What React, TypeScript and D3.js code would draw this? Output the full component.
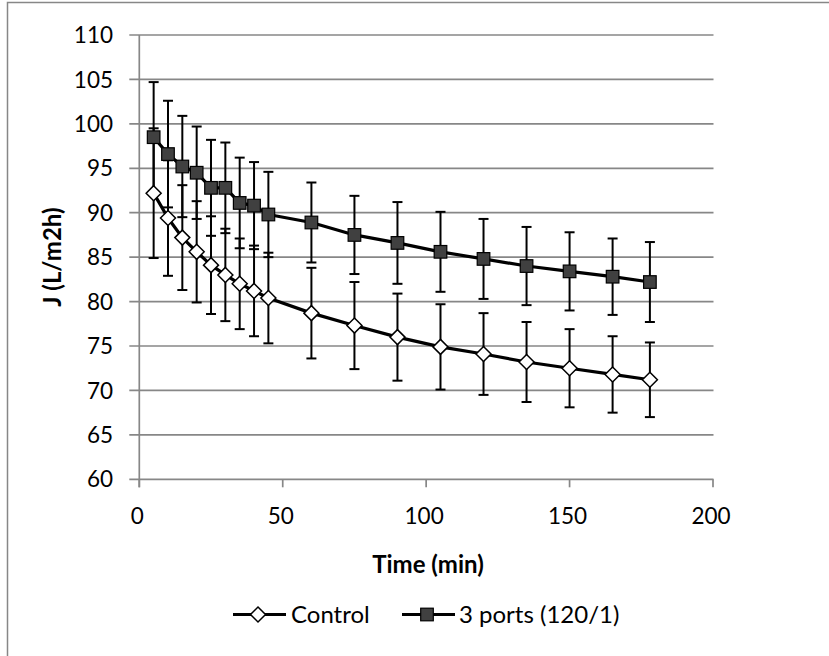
import React from "react";
import * as d3 from "d3";

const times = [5, 10, 15, 20, 25, 30, 35, 40, 45, 60, 75, 90, 105, 120, 135, 150, 165, 178];
const controlValues = [92.2, 89.4, 87.2, 85.6, 84.1, 83.0, 82.0, 81.2, 80.4, 78.7, 77.3, 76.0, 74.9, 74.1, 73.2, 72.5, 71.8, 71.2];
const controlErrors = [7.3, 6.5, 5.9, 5.7, 5.5, 5.2, 5.1, 5.1, 5.1, 5.1, 4.9, 4.9, 4.8, 4.6, 4.5, 4.4, 4.3, 4.2];
const portsValues = [98.5, 96.6, 95.2, 94.5, 92.8, 92.8, 91.1, 90.8, 89.8, 88.9, 87.5, 86.6, 85.6, 84.8, 84.0, 83.4, 82.8, 82.2];
const portsErrors = [6.2, 6.0, 5.7, 5.2, 5.4, 5.1, 5.1, 4.9, 4.8, 4.5, 4.4, 4.6, 4.5, 4.5, 4.4, 4.4, 4.3, 4.5];
const yTicks = [60, 65, 70, 75, 80, 85, 90, 95, 100, 105, 110];
const xTicks = [0, 50, 100, 150, 200];
const seriesNames = ["Control", "3 ports (120/1)"];
const xTitle = "Time (min)";
const yTitle = "J (L/m2h)";

const W = 829;
const H = 656;
const FONT = "Lato, 'Open Sans', 'Liberation Sans', sans-serif";
const GRID = "#878787";

export default function App() {
  const x = d3.scaleLinear().domain([0, 200]).range([139.3, 713]);
  const y = d3.scaleLinear().domain([60, 110]).range([479.3, 35]);
  const line = d3
    .line<[number, number]>()
    .x((d) => x(d[0]))
    .y((d) => y(d[1]));

  const series = [
    { name: seriesNames[0], values: controlValues, errors: controlErrors, kind: "diamond" },
    { name: seriesNames[1], values: portsValues, errors: portsErrors, kind: "square" },
  ];

  const marker = (kind: string, cx: number, cy: number, key: any) =>
    kind === "diamond" ? (
      <path
        key={key}
        d={`M${cx},${cy - 7.5}L${cx + 7.5},${cy}L${cx},${cy + 7.5}L${cx - 7.5},${cy}Z`}
        fill="#fff"
        stroke="#000"
        strokeWidth={1.5}
      />
    ) : (
      <rect key={key} x={cx - 6.3} y={cy - 6.3} width={12.6} height={12.6} fill="#404040" stroke="#000" strokeWidth={1.2} />
    );

  const capW = 5;

  return (
    <svg
      width={W}
      height={H}
      style={{ position: "absolute", left: 0, top: 0, background: "#fff" }}
      fontFamily={FONT}
    >
      <rect x={0} y={0} width={W} height={H} fill="#fff" />
      <rect x={7.5} y={2.5} width={900} height={700} fill="none" stroke={GRID} strokeWidth={1.5} />

      {/* gridlines */}
      {yTicks.map((t) => (
        <line key={"g" + t} x1={129.3} x2={713.5} y1={y(t)} y2={y(t)} stroke={GRID} strokeWidth={1.7} />
      ))}
      {/* y axis line */}
      <line x1={x(0)} x2={x(0)} y1={y(110)} y2={y(60) + 8} stroke={GRID} strokeWidth={1.7} />
      {/* x ticks */}
      {xTicks.map((t) => (
        <line key={"xt" + t} x1={x(t)} x2={x(t)} y1={y(60)} y2={y(60) + 8} stroke={GRID} strokeWidth={1.7} />
      ))}

      {/* y tick labels */}
      {yTicks.map((t) => (
        <text key={"yl" + t} x={113} y={y(t)} dy="0.36em" textAnchor="end" fontSize={22.5} fill="#000">
          {t}
        </text>
      ))}
      {/* x tick labels */}
      {xTicks.map((t) => (
        <text key={"xl" + t} x={x(t) - 2} y={524} textAnchor="middle" fontSize={22.5} fill="#000">
          {t}
        </text>
      ))}

      {/* axis titles */}
      <text x={428} y={573} textAnchor="middle" fontSize={24} fontWeight="bold" fill="#000">
        {xTitle}
      </text>
      <text
        transform={`translate(61,${(y(60) + y(110)) / 2}) rotate(-90)`}
        textAnchor="middle"
        fontSize={24}
        fontWeight="bold"
        fill="#000"
      >
        {yTitle}
      </text>

      {/* error bars */}
      {series.map((s, si) =>
        times.map((t, i) => {
          const cx = x(t);
          const top = y(s.values[i] + s.errors[i]);
          const bot = y(s.values[i] - s.errors[i]);
          return (
            <g key={`e${si}-${i}`} stroke="#000" strokeWidth={2}>
              <line x1={cx} x2={cx} y1={top} y2={bot} />
              <line x1={cx - capW} x2={cx + capW} y1={top} y2={top} />
              <line x1={cx - capW} x2={cx + capW} y1={bot} y2={bot} />
            </g>
          );
        })
      )}

      {/* lines */}
      {series.map((s, si) => (
        <path
          key={"l" + si}
          d={line(times.map((t, i) => [t, s.values[i]] as [number, number])) || ""}
          fill="none"
          stroke="#000"
          strokeWidth={3.2}
          strokeLinejoin="round"
        />
      ))}

      {/* markers */}
      {series.map((s, si) => times.map((t, i) => marker(s.kind, x(t), y(s.values[i]), `m${si}-${i}`)))}

      {/* legend */}
      <g>
        <line x1={233} x2={286} y1={614.5} y2={614.5} stroke="#000" strokeWidth={3.2} />
        {marker("diamond", 258, 614.5, "lg0")}
        <text x={291} y={614.5} dy="0.36em" fontSize={24} fill="#000">
          {seriesNames[0]}
        </text>
        <line x1={402} x2={455} y1={614.5} y2={614.5} stroke="#000" strokeWidth={3.2} />
        {marker("square", 427, 614.5, "lg1")}
        <text x={459} y={614.5} dy="0.36em" fontSize={24} fill="#000">
          {seriesNames[1]}
        </text>
      </g>
    </svg>
  );
}
